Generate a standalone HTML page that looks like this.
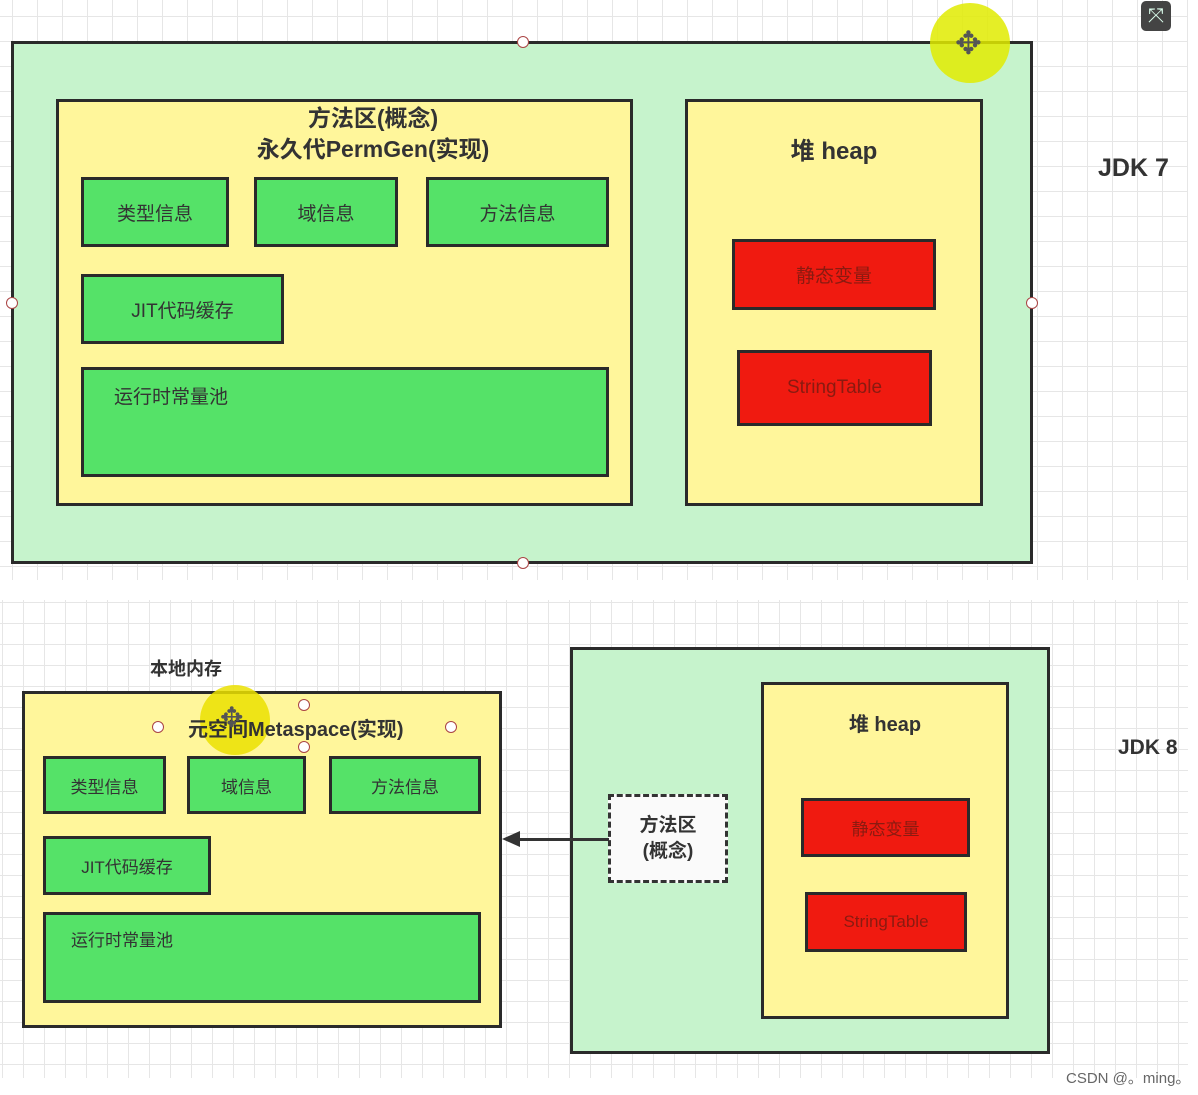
<!DOCTYPE html>
<html><head><meta charset="utf-8"><style>
body{margin:0;width:1198px;height:1095px;background:#fff;position:relative;overflow:hidden;font-family:"Liberation Sans","Noto Sans CJK SC",sans-serif;color:#333}
div{position:absolute;box-sizing:border-box}
.grid{background-color:#fff;background-image:linear-gradient(#e6e6e6 1px,transparent 1px),linear-gradient(90deg,#e6e6e6 1px,transparent 1px)}
.b{border:3px solid #2a2a2a}
.lg{background:#c6f3cc}
.y{background:#fff69b}
.g{background:#55e268;display:flex;align-items:center;justify-content:center;font-size:19px;color:#333}
.r{background:#f01a10;display:flex;align-items:center;justify-content:center;font-size:19px;color:#8a1a10}
.t{font-weight:bold;text-align:center;color:#333}
.h{width:12px;height:12px;border-radius:50%;background:#fff;border:1.5px solid #a44}
</style></head><body>
<div class="grid" style="left:0;top:0;width:1188px;height:580px;background-size:25px 25px;background-position:12px 16px"></div>
<div class="grid" style="left:0;top:600px;width:1188px;height:478px;background-size:21px 21px;background-position:2px 2px"></div>

<!-- JDK7 -->
<div class="b lg" style="left:11px;top:41px;width:1022px;height:523px"></div>
<div class="h" style="left:517px;top:36px"></div>
<div class="h" style="left:517px;top:557px"></div>
<div class="h" style="left:6px;top:297px"></div>
<div class="h" style="left:1026px;top:297px"></div>
<div style="left:930px;top:3px;width:80px;height:80px;border-radius:50%;background:rgba(225,235,0,.85)"></div>
<div style="left:955px;top:27px;font-size:32px;line-height:32px;color:#555">✥</div>
<div style="left:1141px;top:1px;width:30px;height:30px;border-radius:5px;background:#444;color:#dfe;font-size:20px;text-align:center;line-height:30px">⤧</div>
<div style="left:1098px;top:154px;font-size:25px;font-weight:bold;color:#333">JDK 7</div>

<div class="b y" style="left:56px;top:99px;width:577px;height:407px"></div>
<div class="t" style="left:223px;top:103px;width:300px;font-size:23px;line-height:31px">方法区(概念)<br>永久代PermGen(实现)</div>
<div class="b g" style="left:81px;top:177px;width:148px;height:70px">类型信息</div>
<div class="b g" style="left:254px;top:177px;width:144px;height:70px">域信息</div>
<div class="b g" style="left:426px;top:177px;width:183px;height:70px">方法信息</div>
<div class="b g" style="left:81px;top:274px;width:203px;height:70px">JIT代码缓存</div>
<div class="b g" style="left:81px;top:367px;width:528px;height:110px;align-items:flex-start;justify-content:flex-start;padding:12px 0 0 30px">运行时常量池</div>

<div class="b y" style="left:685px;top:99px;width:298px;height:407px"></div>
<div class="t" style="left:685px;top:131px;width:298px;font-size:24px">堆 heap</div>
<div class="b r" style="left:732px;top:239px;width:204px;height:71px">静态变量</div>
<div class="b r" style="left:737px;top:350px;width:195px;height:76px">StringTable</div>

<!-- JDK8 -->
<div style="left:150px;top:655px;font-size:18px;font-weight:bold;color:#333">本地内存</div>
<div class="b y" style="left:22px;top:691px;width:480px;height:337px"></div>
<div style="left:200px;top:685px;width:70px;height:70px;border-radius:50%;background:rgba(235,225,0,.85)"></div>
<div class="t" style="left:188px;top:713px;font-size:20px">元空间Metaspace(实现)</div>
<div style="left:220px;top:704px;font-size:28px;line-height:28px;color:#555">✥</div>
<div class="h" style="left:152px;top:721px"></div>
<div class="h" style="left:445px;top:721px"></div>
<div class="h" style="left:298px;top:699px"></div>
<div class="h" style="left:298px;top:741px"></div>
<div class="b g" style="left:43px;top:756px;width:123px;height:58px;font-size:17px">类型信息</div>
<div class="b g" style="left:187px;top:756px;width:119px;height:58px;font-size:17px">域信息</div>
<div class="b g" style="left:329px;top:756px;width:152px;height:58px;font-size:17px">方法信息</div>
<div class="b g" style="left:43px;top:836px;width:168px;height:59px;font-size:17px">JIT代码缓存</div>
<div class="b g" style="left:43px;top:912px;width:438px;height:91px;font-size:17px;align-items:flex-start;justify-content:flex-start;padding:11px 0 0 25px">运行时常量池</div>

<div class="b lg" style="left:570px;top:647px;width:480px;height:407px"></div>
<div class="b y" style="left:761px;top:682px;width:248px;height:337px"></div>
<div class="t" style="left:761px;top:708px;width:248px;font-size:20px">堆 heap</div>
<div class="b r" style="left:801px;top:798px;width:169px;height:59px;font-size:17px">静态变量</div>
<div class="b r" style="left:805px;top:892px;width:162px;height:60px;font-size:17px">StringTable</div>
<div style="left:608px;top:794px;width:120px;height:89px;border:3px dashed #333;background:#fafafa"></div>
<div class="t" style="left:608px;top:813px;width:120px;font-size:19px;line-height:26px">方法区<br>(概念)</div>
<div style="left:518px;top:838px;width:91px;height:3px;background:#333"></div>
<div style="left:502px;top:831px;width:0;height:0;border-top:8px solid transparent;border-bottom:8px solid transparent;border-right:18px solid #333"></div>
<div style="left:1118px;top:736px;font-size:21px;font-weight:bold;color:#333">JDK 8</div>
<div style="left:1066px;top:1067px;font-size:15px;color:#666">CSDN @。ming。</div>
</body></html>
